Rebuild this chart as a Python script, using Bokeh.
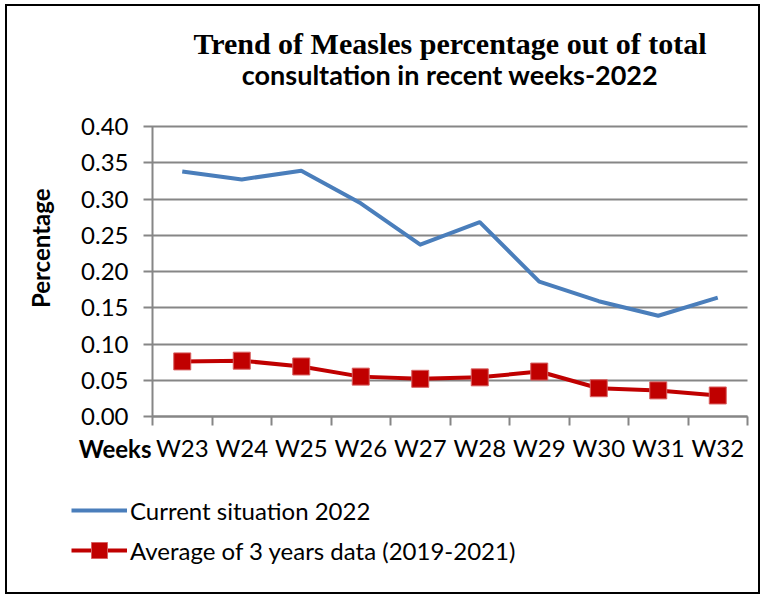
from math import pi
from bokeh.plotting import figure
from bokeh.models import FixedTicker, Label, Legend, LegendItem, ColumnDataSource, Range1d, PrintfTickFormatter
from bokeh.embed import file_html
from bokeh.resources import INLINE

weeks = ["W23", "W24", "W25", "W26", "W27", "W28", "W29", "W30", "W31", "W32"]
current_2022 = [0.338, 0.327, 0.339, 0.294, 0.237, 0.268, 0.186, 0.159, 0.139, 0.164]
avg_2019_2021 = [0.076, 0.077, 0.069, 0.055, 0.052, 0.054, 0.062, 0.039, 0.036, 0.029]
y_ticks = [0.0, 0.05, 0.10, 0.15, 0.20, 0.25, 0.30, 0.35, 0.40]
title_lines = ["Trend of Measles percentage out of total", "consultation in recent weeks-2022"]
series_names = ["Current situation 2022", "Average of 3 years data (2019-2021)"]
x_title = "Weeks"
y_title = "Percentage"

n = len(weeks)
xpos = [i + 0.5 for i in range(n)]
src = ColumnDataSource(dict(x=xpos, week=weeks, cur=current_2022, avg=avg_2019_2021))

FONT = "Lato"
GRID = "#868686"
W, H = 755, 590
# pixel geometry of the plotting area inside the canvas
PX_L, PX_R, PX_T, PX_B = 145, 740, 120, 410
sx = (PX_R - PX_L) / n
sy = (PX_B - PX_T) / y_ticks[-1]

p = figure(width=W, height=H, output_backend="svg", toolbar_location=None,
           x_range=Range1d(-PX_L / sx, (W - PX_L) / sx),
           y_range=Range1d(-(H - PX_B) / sy, PX_B / sy),
           min_border=0)
p.styles = {"border": "2px solid black", "margin-left": "5px", "margin-top": "4px"}
p.outline_line_color = None
p.background_fill_color = "white"
p.border_fill_color = "white"
p.xgrid.visible = False
p.ygrid.visible = False

# y axis at x=0; long inward ticks serve as the horizontal grid lines
ya = p.yaxis[0]
ya.fixed_location = 0
ya.bounds = (y_ticks[0], y_ticks[-1])
ya.level = "underlay"
ya.ticker = FixedTicker(ticks=y_ticks)
ya.formatter = PrintfTickFormatter(format="%.2f")
ya.axis_line_color = GRID
ya.axis_line_width = 2
ya.major_tick_line_color = GRID
ya.major_tick_line_width = 2
ya.major_tick_out = 9
ya.major_tick_in = PX_R - PX_L
ya.minor_tick_line_color = None
ya.major_label_standoff = 15
ya.major_label_text_font = FONT
ya.major_label_text_font_size = "24px"
ya.major_label_text_color = "black"

# x axis at y=0 with boundary ticks between categories
xa = p.xaxis[0]
xa.fixed_location = 0
xa.bounds = (0, n)
xa.level = "underlay"
xa.ticker = FixedTicker(ticks=xpos, minor_ticks=list(range(n + 1)))
xa.major_label_overrides = {x: w for x, w in zip(xpos, weeks)}
xa.axis_line_color = GRID
xa.axis_line_width = 2
xa.major_tick_line_color = None
xa.major_tick_out = 0
xa.major_tick_in = 0
xa.minor_tick_line_color = GRID
xa.minor_tick_line_width = 2
xa.minor_tick_out = 9
xa.minor_tick_in = 0
xa.major_label_standoff = 7
xa.major_label_text_font = FONT
xa.major_label_text_font_size = "24px"
xa.major_label_text_color = "black"

blue = p.line("x", "cur", source=src, line_color="#4A7EBB", line_width=4, line_join="round")
red_line = p.line("x", "avg", source=src, line_color="#C00000", line_width=4, line_join="round")
red_sq = p.scatter("x", "avg", source=src, marker="square", size=17,
                   fill_color="#C00000", line_color="#D86060", line_width=1)

# titles and axis names
p.add_layout(Label(x=n / 2, y=y_ticks[-1], y_offset=83, text=title_lines[0], text_align="center",
                   text_baseline="alphabetic", text_font="Liberation Serif", text_font_style="bold",
                   text_font_size="30px", text_color="black"))
p.add_layout(Label(x=n / 2, y=y_ticks[-1], y_offset=52, text=title_lines[1], text_align="center",
                   text_baseline="alphabetic", text_font=FONT, text_font_style="bold",
                   text_font_size="27px", text_color="black"))
p.add_layout(Label(x=0, y=0, x_offset=-1, y_offset=-32, text=x_title, text_align="right",
                   text_baseline="alphabetic", text_font=FONT, text_font_style="bold",
                   text_font_size="24px", text_color="black"))
p.add_layout(Label(x=0, y=0.232, x_offset=-112, text=y_title, angle=pi / 2,
                   text_align="center", text_baseline="middle", text_font=FONT,
                   text_font_style="bold", text_font_size="24px", text_color="black"))

legend = Legend(items=[LegendItem(label=series_names[0], renderers=[blue]),
                       LegendItem(label=series_names[1], renderers=[red_line, red_sq])],
                location=(64, 26), orientation="vertical",
                glyph_width=56, glyph_height=40, label_height=40, label_standoff=3,
                spacing=0, padding=0, margin=0,
                border_line_color=None, background_fill_alpha=0,
                label_text_font=FONT, label_text_font_size="24px", label_text_color="black")
p.add_layout(legend)

open("out.html", "w").write(file_html(p, INLINE))
